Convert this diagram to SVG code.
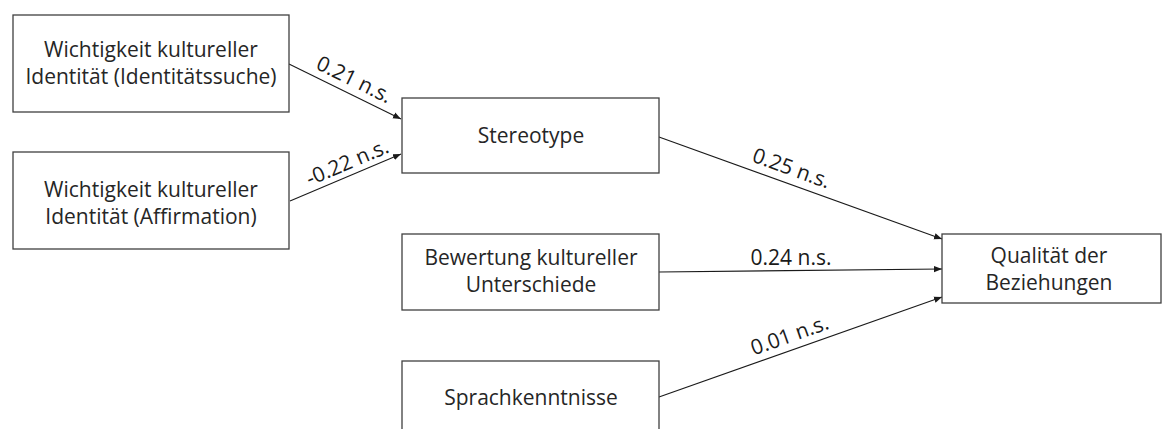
<svg xmlns="http://www.w3.org/2000/svg" width="1162" height="429" viewBox="0 0 1162 429">
<defs>
<marker id="arr" viewBox="0 0 10 10" refX="10" refY="5" markerWidth="8" markerHeight="8" markerUnits="userSpaceOnUse" orient="auto">
<path d="M0,1 L10,5 L0,9 z" fill="#1a1a1a"/>
</marker>
<style>
.box{fill:#ffffff;stroke:#404040;stroke-width:1.3}
.t{font-family:"Open Sans","Noto Sans","Liberation Sans",sans-serif;font-size:21px;fill:#262626;text-anchor:middle}
.lbl{font-family:"Open Sans","Noto Sans","Liberation Sans",sans-serif;font-size:21px;fill:#1a1a1a;text-anchor:middle}
.c{stroke:#1a1a1a;stroke-width:1.1;fill:none;marker-end:url(#arr)}
</style>
</defs>
<rect width="1162" height="429" fill="#ffffff"/>
<g id="connectors">
<line class="c" x1="289" y1="64" x2="401" y2="119"/>
<line class="c" x1="290" y1="201" x2="401" y2="154"/>
<line class="c" x1="659" y1="137" x2="942" y2="239"/>
<line class="c" x1="659" y1="272" x2="942" y2="269"/>
<line class="c" x1="659" y1="397" x2="942" y2="297"/>
<text class="lbl" transform="translate(351,86) rotate(26)">0.21 n.s.</text>
<text class="lbl" transform="translate(350,169) rotate(-23)">-0.22 n.s.</text>
<text class="lbl" transform="translate(789,175) rotate(19.8)">0.25 n.s.</text>
<text class="lbl" x="791" y="265">0.24 n.s.</text>
<text class="lbl" transform="translate(792,342) rotate(-19.5)">0.01 n.s.</text>
</g>
<g id="n1">
<rect class="box" x="13" y="15" width="276" height="97"/>
<text class="t" x="151" y="57">Wichtigkeit kultureller</text>
<text class="t" x="151" y="84">Identität (Identitätssuche)</text>
</g>
<g id="n2">
<rect class="box" x="13" y="152" width="276" height="97"/>
<text class="t" x="151" y="197">Wichtigkeit kultureller</text>
<text class="t" x="151" y="224">Identität (Affirmation)</text>
</g>
<g id="n3">
<rect class="box" x="402" y="98" width="257" height="75"/>
<text class="t" x="531" y="143">Stereotype</text>
</g>
<g id="n4">
<rect class="box" x="402" y="234" width="257" height="76"/>
<text class="t" x="531" y="265">Bewertung kultureller</text>
<text class="t" x="531" y="292">Unterschiede</text>
</g>
<g id="n5">
<rect class="box" x="402" y="361" width="257" height="90"/>
<text class="t" x="531" y="405">Sprachkenntnisse</text>
</g>
<g id="n6">
<rect class="box" x="942" y="234" width="219" height="69"/>
<text class="t" x="1049" y="263">Qualität der</text>
<text class="t" x="1049" y="290">Beziehungen</text>
</g>
</svg>
